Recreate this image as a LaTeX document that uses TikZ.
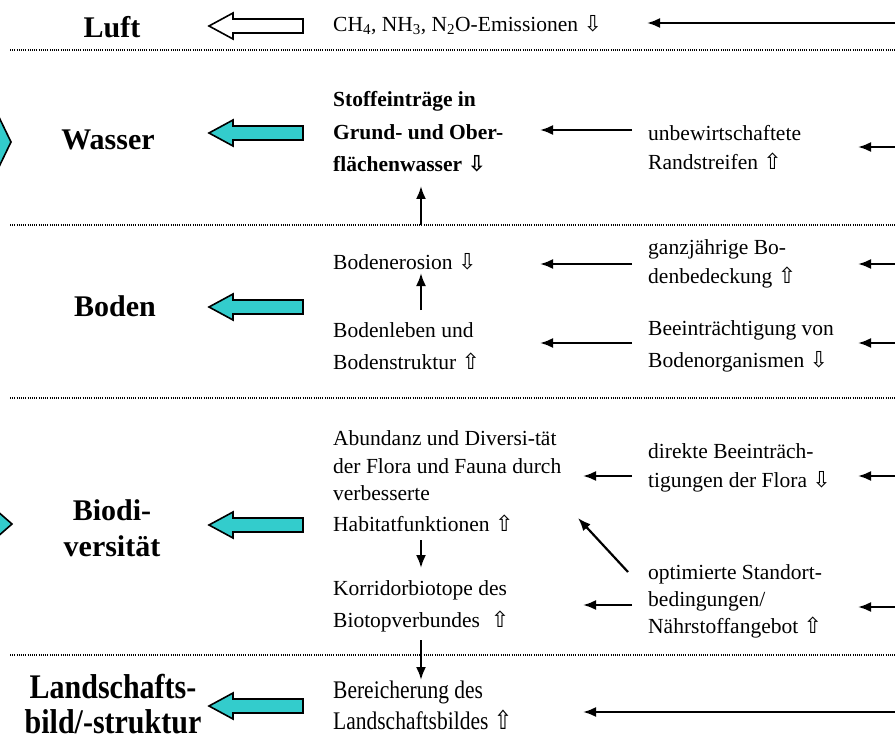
\documentclass[tikz,border=0pt]{standalone}
\usepackage{fontspec}
\setmainfont{Liberation Serif}
\newfontfamily\symf{DejaVu Sans}
\usetikzlibrary{arrows.meta}
\definecolor{tq}{HTML}{33CCCC}
\newcommand\arrdn{{\symf\fontsize{22}{22}\selectfont ⇩}}
\newcommand\arrup{{\symf\fontsize{22}{22}\selectfont ⇧}}
\newcommand\blockarr[2]{%
  \filldraw[blockarrow,fill=#2] (209,#1) -- (233,{#1-13}) -- (233,{#1-7}) -- (303,{#1-7})
    -- (303,{#1+7}) -- (233,{#1+7}) -- (233,{#1+13}) -- cycle;}
\begin{document}
\begin{tikzpicture}[x=1pt,y=-1pt,
  txt/.style={anchor=west, align=left, inner sep=0pt, font=\fontsize{21.5}{29}\selectfont},
  lab/.style={align=center, inner sep=0pt, font=\bfseries\fontsize{30}{36}\selectfont},
  conn/.style={line width=2.2pt, -{Latex[length=13pt,width=10pt]}},
  blockarrow/.style={draw=black, line width=1.6pt, line join=miter},
  sep/.style={line width=1.2pt, dash pattern=on 1pt off 1.2pt},
  hexa/.style={draw=black, line width=1.6pt, fill=tq, line join=miter}
]
\useasboundingbox (0,0) rectangle (895,741);

% separators
\foreach \yy in {50,225,398,655} \draw[sep] (10,\yy) -- (895,\yy);

% partial hexagons at left edge
\filldraw[hexa] (-4,111) -- (11,142) -- (-4,173) -- cycle;
\filldraw[hexa] (-4,510) -- (12,524) -- (-4,538) -- cycle;

% left labels
\node[lab] (luft) at (112,27) {Luft};
\node[lab] (wasser) at (108,140) {Wasser};
\node[lab] (boden) at (115,306) {Boden};
\node[lab] (bio) at (112,528) {Biodi-\\versität};
\node[lab, font=\bfseries\fontsize{30}{35}\selectfont] (land) at (113,704) {\scalebox{1}[1.15]{Landschafts-}\\\scalebox{1}[1.15]{bild/-struktur}};

% block arrows
\blockarr{26}{white}
\blockarr{133}{tq}
\blockarr{307}{tq}
\blockarr{525}{tq}
\blockarr{706}{tq}

% left column texts
\node[txt] (em) at (333,25) {CH\textsubscript{4}, NH\textsubscript{3}, N\textsubscript{2}O-Emissionen \arrdn};
\node[txt, font=\bfseries\fontsize{21.5}{32.5}\selectfont] (stoff) at (333,132) {Stoffeinträge in\\Grund- und Ober-\\flächenwasser \arrdn};
\node[txt] (ero) at (333,262) {Bodenerosion \arrdn};
\node[txt, font=\fontsize{21.5}{32}\selectfont] (leben) at (333,346) {Bodenleben und\\Bodenstruktur \arrup};
\node[txt, font=\fontsize{21.5}{27.5}\selectfont] (abund) at (333,481) {Abundanz und Diversi-tät\\der Flora und Fauna durch\\verbesserte\\[3pt]Habitatfunktionen \arrup};
\node[txt, font=\fontsize{21.5}{32}\selectfont] (korr) at (333,606) {Korridorbiotope des\\Biotopverbundes\ \ \arrup};
\node[txt, font=\fontsize{21.5}{31}\selectfont] (ber) at (333,705) {\scalebox{1}[1.18]{Bereicherung des}\\\scalebox{1}[1.18]{Landschaftsbildes \arrup}};

% right column texts
\node[txt] (rand) at (648,148) {unbewirtschaftete\\Randstreifen \arrup};
\node[txt] (ganz) at (648,264) {ganzjährige Bo-\\denbedeckung \arrup};
\node[txt, font=\fontsize{21.5}{32}\selectfont] (beein) at (648,346) {Beeinträchtigung von\\Bodenorganismen \arrdn};
\node[txt] (dir) at (648,468) {direkte Beeinträch-\\tigungen der Flora \arrdn};
\node[txt, font=\fontsize{21.5}{27}\selectfont] (opt) at (648,601) {optimierte Standort-\\bedingungen/\\Nährstoffangebot \arrup};

% right edge coordinates
\coordinate (e0) at (896,23);
\coordinate (e1) at (896,147);
\coordinate (e2) at (896,264);
\coordinate (e3) at (896,343);
\coordinate (e4) at (896,476);
\coordinate (e5) at (896,607);
\coordinate (e6) at (896,712);

% arrows from right edge
\draw[conn] (e0) -- (647,23);
\draw[conn] (e1) -- (858,147);
\draw[conn] (e2) -- (858,264);
\draw[conn] (e3) -- (858,343);
\draw[conn] (e4) -- (858,476);
\draw[conn] (e5) -- (858,607);
\draw[conn] (e6) -- (583,712);

% arrows between columns
\draw[conn] (rand.west |- 0,130) ++(-16,0) -- (540,130);
\draw[conn] (ganz.west |- 0,264) ++(-16,0) -- (540,264);
\draw[conn] (beein.west |- 0,343) ++(-16,0) -- (540,343);
\draw[conn] (dir.west |- 0,476) ++(-16,0) -- (583,476);
\draw[conn] (opt.west |- 0,605) ++(-16,0) -- (583,605);
\draw[conn] (628,572) -- (578,518);

% vertical arrows
\draw[conn] (421,225) -- (421,186);
\draw[conn] (421,310) -- (421,273);
\draw[conn] (421,540) -- (421,568);
\draw[conn] (421,640) -- (421,680);
\end{tikzpicture}
\end{document}
